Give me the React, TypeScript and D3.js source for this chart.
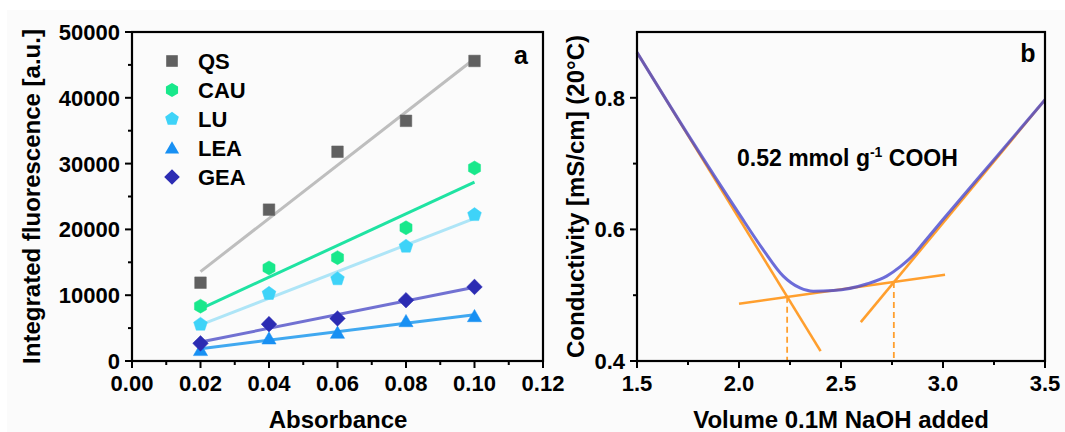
import React from "react";
import * as d3 from "d3";

// ---------- Panel a data ----------
const absorbance = [0.02, 0.04, 0.06, 0.08, 0.1];
const seriesNames = ["QS", "CAU", "LU", "LEA", "GEA"];
const qs = [11900, 23000, 31800, 36500, 45600];
const cau = [8330, 14140, 15710, 20250, 29340];
const lu = [5560, 10250, 12470, 17420, 22220];
const lea = [1670, 3430, 4290, 6060, 6820];
const gea = [2680, 5600, 6460, 9240, 11260];
const xTicksA = [0, 0.02, 0.04, 0.06, 0.08, 0.1, 0.12];
const yTicksA = [0, 10000, 20000, 30000, 40000, 50000];

// ---------- Panel b data ----------
const volume = [1.5, 1.75, 2.0, 2.119, 2.217, 2.299, 2.364, 2.462, 2.626, 2.724, 2.789, 2.854, 2.887, 3.0, 3.25, 3.5];
const conductivity = [0.869, 0.744, 0.624, 0.569, 0.529, 0.511, 0.506, 0.507, 0.517, 0.529, 0.543, 0.561, 0.573, 0.615, 0.706, 0.797];
const fitLeft: [number, number][] = [[1.5, 0.869], [2.4, 0.415]];
const fitMid: [number, number][] = [[2.0, 0.487], [3.01, 0.531]];
const fitRight: [number, number][] = [[2.597, 0.459], [3.5, 0.797]];
const endpoints: [number, number][] = [[2.236, 0.4975], [2.759, 0.52]];
const xTicksB = [1.5, 2.0, 2.5, 3.0, 3.5];
const yTicksB = [0.4, 0.6, 0.8];

const FONT = "'Liberation Sans', Arial, sans-serif";

const markerColors = ["#606060", "#18e88b", "#3ed3f8", "#1890f3", "#2c2cb3"];
const lineColors = ["#bebebe", "#1fe3a2", "#aee5f7", "#40a8f0", "#7171d2"];
const shapes = ["square", "hexagon", "pentagon", "triangle", "diamond"];

function polygon(cx: number, cy: number, r: number, n: number, rot: number) {
  const pts: string[] = [];
  for (let i = 0; i < n; i++) {
    const a = rot + (i * 2 * Math.PI) / n;
    pts.push(`${(cx + r * Math.cos(a)).toFixed(2)},${(cy + r * Math.sin(a)).toFixed(2)}`);
  }
  return "M" + pts.join("L") + "Z";
}

function markerPath(shape: string, cx: number, cy: number) {
  switch (shape) {
    case "square":
      return `M${cx - 5.8},${cy - 5.8}h11.6v11.6h-11.6Z`;
    case "hexagon":
      return polygon(cx, cy, 7, 6, -Math.PI / 2);
    case "pentagon":
      return polygon(cx, cy, 7.2, 5, -Math.PI / 2);
    case "triangle":
      return polygon(cx, cy + 1.5, 8.2, 3, -Math.PI / 2);
    case "diamond":
      return polygon(cx, cy, 7.8, 4, -Math.PI / 2);
  }
  return "";
}

function fit(xs: number[], ys: number[]) {
  const mx = d3.mean(xs)!;
  const my = d3.mean(ys)!;
  let num = 0, den = 0;
  xs.forEach((x, i) => { num += (x - mx) * (ys[i] - my); den += (x - mx) * (x - mx); });
  const b = num / den;
  return (x: number) => my + b * (x - mx);
}

export default function App() {
  const top = 32, bottom = 361;
  // Panel a
  const xa = d3.scaleLinear().domain([0, 0.12]).range([132, 543]);
  const ya = d3.scaleLinear().domain([0, 50000]).range([bottom, top]);
  const allSeries = [qs, cau, lu, lea, gea];
  // Panel b
  const xb = d3.scaleLinear().domain([1.5, 3.5]).range([637, 1045]);
  const yb = d3.scaleLinear().domain([0.4, 0.9]).range([bottom, top]);

  const lineA = d3.line<[number, number]>().x(d => xa(d[0])).y(d => ya(d[1]));
  const lineB = d3.line<[number, number]>().x(d => xb(d[0])).y(d => yb(d[1]));
  const curveB = d3.line<[number, number]>().x(d => xb(d[0])).y(d => yb(d[1])).curve(d3.curveMonotoneX);

  const minorXA = d3.range(0.01, 0.12, 0.02);
  const minorYA = d3.range(5000, 50000, 10000);
  const minorXB = [1.75, 2.25, 2.75, 3.25];
  const minorYB = [0.5, 0.7];

  const tickStyle = { stroke: "#000", strokeWidth: 2 };
  const labelStyle: React.CSSProperties = { fontFamily: FONT, fontWeight: 700, fontSize: 22 };
  const titleStyle: React.CSSProperties = { fontFamily: FONT, fontWeight: 700, fontSize: 24 };

  const orange = "#ff9f2e";

  return (
    <svg width={1065} height={432} style={{ position: "absolute", left: 0, top: 0 }}>
      <rect x={0} y={0} width={1065} height={432} fill="#ffffff" />
      <rect x={7} y={10} width={1058} height={422} fill="#fbfbfb" />

      {/* ---------- Panel a ---------- */}
      <g>
        {allSeries.map((s, i) => {
          const f = fit(absorbance, s);
          return (
            <path key={"fit" + i} d={lineA([[0.02, f(0.02)], [0.1, f(0.1)]])!} stroke={lineColors[i]} strokeWidth={3} fill="none" />
          );
        })}
        {allSeries.map((s, i) =>
          s.map((v, j) => (
            <path key={`m${i}-${j}`} d={markerPath(shapes[i], xa(absorbance[j]), ya(v))} fill={markerColors[i]} stroke={markerColors[i]} strokeWidth={0.8} strokeOpacity={0.6} />
          ))
        )}
        <rect x={132} y={top} width={543 - 132} height={bottom - top} fill="none" stroke="#000" strokeWidth={2.2} />
        {xTicksA.map(t => (
          <g key={"xa" + t}>
            <line x1={xa(t)} x2={xa(t)} y1={bottom} y2={bottom + 7} {...tickStyle} />
            <text x={xa(t)} y={391} textAnchor="middle" style={labelStyle}>{t.toFixed(2)}</text>
          </g>
        ))}
        {minorXA.map(t => (
          <line key={"mxa" + t} x1={xa(t)} x2={xa(t)} y1={bottom} y2={bottom + 4} {...tickStyle} />
        ))}
        {yTicksA.map(t => (
          <g key={"ya" + t}>
            <line x1={132 - 7} x2={132} y1={ya(t)} y2={ya(t)} {...tickStyle} />
            <text x={120} y={ya(t) + 8} textAnchor="end" style={labelStyle}>{t}</text>
          </g>
        ))}
        {minorYA.map(t => (
          <line key={"mya" + t} x1={132 - 4} x2={132} y1={ya(t)} y2={ya(t)} {...tickStyle} />
        ))}
        <text x={338} y={428} textAnchor="middle" style={titleStyle}>Absorbance</text>
        <text transform={`translate(40,${(top + bottom) / 2}) rotate(-90)`} textAnchor="middle" style={titleStyle}>Integrated fluorescence [a.u.]</text>
        <text x={521} y={64} textAnchor="middle" style={{ ...titleStyle, fontSize: 25 }}>a</text>
        {seriesNames.map((n, i) => (
          <g key={"leg" + n}>
            <path d={markerPath(shapes[i], 172, 61 + i * 29)} fill={markerColors[i]} />
            <text x={198} y={61 + i * 29 + 8} style={{ ...labelStyle, fontSize: 22 }}>{n}</text>
          </g>
        ))}
      </g>

      {/* ---------- Panel b ---------- */}
      <g>
        <path d={lineB(fitLeft)!} stroke={orange} strokeWidth={2.6} fill="none" />
        <path d={lineB(fitMid)!} stroke={orange} strokeWidth={2.6} fill="none" />
        <path d={lineB(fitRight)!} stroke={orange} strokeWidth={2.6} fill="none" />
        {endpoints.map((e, i) => (
          <line key={"ep" + i} x1={xb(e[0])} x2={xb(e[0])} y1={yb(e[1])} y2={bottom} stroke={orange} strokeWidth={1.8} strokeDasharray="6,4" />
        ))}
        <path d={curveB(volume.map((v, i) => [v, conductivity[i]] as [number, number]))!} stroke="#4848cf" strokeOpacity={0.8} strokeWidth={3} fill="none" />
        <rect x={637} y={top} width={1045 - 637} height={bottom - top} fill="none" stroke="#000" strokeWidth={2.2} />
        {xTicksB.map(t => (
          <g key={"xb" + t}>
            <line x1={xb(t)} x2={xb(t)} y1={bottom} y2={bottom + 7} {...tickStyle} />
            <text x={xb(t)} y={391} textAnchor="middle" style={labelStyle}>{t.toFixed(1)}</text>
          </g>
        ))}
        {minorXB.map(t => (
          <line key={"mxb" + t} x1={xb(t)} x2={xb(t)} y1={bottom} y2={bottom + 4} {...tickStyle} />
        ))}
        {yTicksB.map(t => (
          <g key={"yb" + t}>
            <line x1={637 - 7} x2={637} y1={yb(t)} y2={yb(t)} {...tickStyle} />
            <text x={625} y={yb(t) + 8} textAnchor="end" style={labelStyle}>{t.toFixed(1)}</text>
          </g>
        ))}
        {minorYB.map(t => (
          <line key={"myb" + t} x1={637 - 4} x2={637} y1={yb(t)} y2={yb(t)} {...tickStyle} />
        ))}
        <text x={841} y={428} textAnchor="middle" style={titleStyle}>Volume 0.1M NaOH added</text>
        <text transform={`translate(584,${(top + bottom) / 2}) rotate(-90)`} textAnchor="middle" style={titleStyle}>Conductivity [mS/cm] (20°C)</text>
        <text x={1028} y={62} textAnchor="middle" style={{ ...titleStyle, fontSize: 25 }}>b</text>
        <text x={737} y={166} style={{ ...labelStyle, fontSize: 23 }}>
          0.52 mmol g<tspan dy={-9} fontSize={14}>-1</tspan><tspan dy={9}> COOH</tspan>
        </text>
      </g>
    </svg>
  );
}
